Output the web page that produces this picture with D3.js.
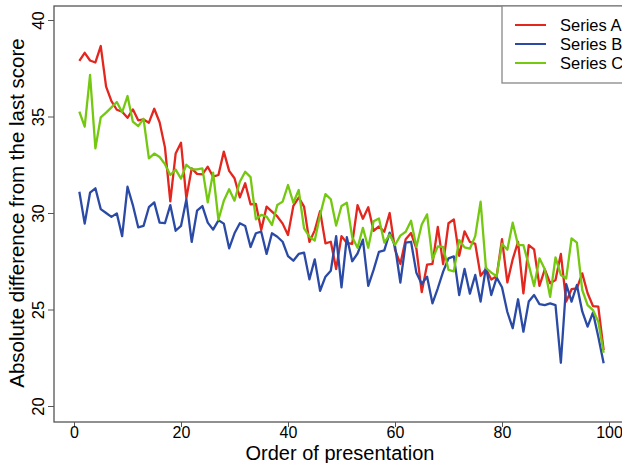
<!DOCTYPE html>
<html>
<head>
<meta charset="utf-8">
<script src="https://cdn.jsdelivr.net/npm/d3@7"></script>
<style>
  body { margin: 0; background: #fff; }
  text { font-family: "Liberation Sans", Arial, sans-serif; fill: #000; }
</style>
</head>
<body>
<svg id="chart"></svg>
<script>
// values, order 1..99
var seriesA = [37.88,38.3,37.9,37.8,38.65,36.55,35.8,35.35,35.25,34.93,
  35.37,34.8,34.85,34.68,35.4,34.7,33.4,30.6,33.08,33.64,
  30.76,32.31,32.03,32.0,32.4,31.88,31.97,33.18,32.18,31.8,
  30.81,31.54,30.45,30.47,29.12,30.33,30.07,29.82,29.45,28.86,
  30.37,30.8,30.33,28.5,29.1,30.1,28.43,28.51,27.1,28.8,
  28.45,28.4,30.41,29.7,30.3,29.08,29.3,29.03,30.0,28.1,
  27.36,28.64,28.96,28.15,25.9,27.33,27.36,29.28,27.35,29.47,
  29.67,27.78,29.05,28.5,28.4,26.75,27.1,26.55,26.72,28.64,
  26.4,27.6,28.51,25.84,28.34,28.12,26.22,27.08,26.36,26.53,
  27.88,25.41,26.05,26.1,26.87,25.84,25.18,25.15,22.9];

var seriesB = [31.1,29.45,31.05,31.28,30.2,30.0,29.8,29.98,28.8,31.36,
  30.41,29.26,29.33,30.3,30.55,29.5,29.47,30.41,29.08,29.33,
  30.7,28.5,30.12,30.36,29.5,29.14,29.62,29.45,28.17,28.95,
  29.47,29.33,28.24,28.95,29.03,27.88,28.95,28.77,28.51,27.77,
  27.53,27.88,27.95,26.56,27.6,25.97,26.7,27.01,28.8,26.15,
  28.75,27.5,27.9,28.62,26.22,27.05,27.99,28.06,28.98,28.29,
  26.39,28.46,28.51,26.9,26.32,26.7,25.32,26.1,26.96,27.65,
  27.75,25.75,27.1,25.82,26.79,25.41,27.2,25.75,26.65,26.15,
  24.87,24.03,25.53,23.85,25.41,25.75,25.28,25.23,25.32,25.23,
  22.24,26.32,25.41,26.27,24.9,24.11,24.84,23.59,22.21];

var seriesC = [35.25,34.47,37.15,33.35,34.96,35.2,35.47,35.75,35.22,36.06,
  34.73,34.5,34.88,32.83,33.08,32.9,32.53,31.97,32.25,31.78,
  32.5,32.26,32.26,32.31,30.55,32.09,29.65,30.63,31.23,30.64,
  31.62,32.14,31.86,29.67,29.9,29.81,29.38,30.41,30.59,31.45,
  30.53,31.19,29.2,28.77,28.57,29.9,30.98,30.71,29.35,30.36,
  30.53,28.75,28.2,29.23,28.2,29.57,29.72,28.47,28.88,28.34,
  28.83,29.03,29.6,28.24,29.4,29.93,27.6,28.27,28.24,27.05,
  26.98,28.6,28.22,28.15,28.8,30.59,27.15,26.91,26.72,28.41,
  28.1,29.5,28.34,28.34,27.31,26.22,27.65,27.08,25.66,27.7,
  26.79,26.61,28.69,28.46,26.01,25.23,24.97,24.37,22.76];

var seriesNames = ["Series A","Series B","Series C"];
var seriesColors = ["#e3261e","#2a4aa6","#74c810"];
var xTicks = [0,20,40,60,80,100];
var yTicks = [20,25,30,35,40];

var screen = {width:622, height:463};
var frame = {left:54, top:6, right:630, bottom:422};

var svg = d3.select("#chart")
    .attr("width",screen.width)
    .attr("height",screen.height)

var xScale = d3.scaleLinear()
    .domain([0,100])
    .range([74,609])

var yScale = d3.scaleLinear()
    .domain([20,40])
    .range([406,20])

// plot region border
svg.append("rect")
    .attr("x",frame.left)
    .attr("y",frame.top)
    .attr("width",frame.right-frame.left)
    .attr("height",frame.bottom-frame.top)
    .attr("fill","none")
    .attr("stroke","#555")
    .attr("stroke-width",1.3)

var xAxis = d3.axisBottom(xScale).tickValues(xTicks).tickSize(5).tickSizeOuter(0);
var yAxis = d3.axisLeft(yScale).tickValues(yTicks).tickSize(6).tickSizeOuter(0);

var gx = svg.append("g")
    .attr("transform","translate(0,"+frame.bottom+")")
    .call(xAxis)
gx.select(".domain").remove()
gx.selectAll("line").attr("stroke","#555")
gx.selectAll("text")
    .attr("font-size",16)
    .attr("y",5)

var gy = svg.append("g")
    .attr("transform","translate("+frame.left+",0)")
    .call(yAxis)
gy.select(".domain").remove()
gy.selectAll("line").attr("stroke","#555")
gy.selectAll("text")
    .attr("font-size",16.5)
    .attr("x",0).attr("dy",0)
    .attr("text-anchor","middle")
    .attr("transform","translate(-10,0) rotate(-90)")

svg.append("text")
    .text("Order of presentation")
    .attr("font-size",20)
    .attr("text-anchor","middle")
    .attr("x",340)
    .attr("y",460)

svg.append("text")
    .text("Absolute difference from the last score")
    .attr("font-size",20.5)
    .attr("text-anchor","middle")
    .attr("transform","translate(24,213) rotate(-90)")

var lineGenerator = d3.line()
    .x(function(d,i) { return xScale(i+1);})
    .y(function(d)   { return yScale(d);})

var allSeries = [seriesA,seriesB,seriesC];
svg.append("g")
    .selectAll("path")
    .data(allSeries)
    .enter()
    .append("path")
    .attr("d",lineGenerator)
    .attr("fill","none")
    .attr("stroke",function(d,i) { return seriesColors[i];})
    .attr("stroke-width",2.3)
    .attr("stroke-linejoin","round")

// legend
var legend = svg.append("g")
legend.append("rect")
    .attr("x",502)
    .attr("y",frame.top)
    .attr("width",140)
    .attr("height",77)
    .attr("fill","#fff")
    .attr("stroke","#888")
    .attr("stroke-width",1.3)

var items = legend.selectAll("g.item")
    .data(seriesNames)
    .enter()
    .append("g")
    .classed("item",true)
    .attr("transform",function(d,i) { return "translate(0,"+(25+i*19)+")";})
items.append("line")
    .attr("x1",515).attr("x2",546)
    .attr("stroke",function(d,i) { return seriesColors[i];})
    .attr("stroke-width",2)
items.append("text")
    .text(function(d) { return d;})
    .attr("x",560)
    .attr("dy","0.35em")
    .attr("font-size",16.5)
</script>
</body>
</html>
